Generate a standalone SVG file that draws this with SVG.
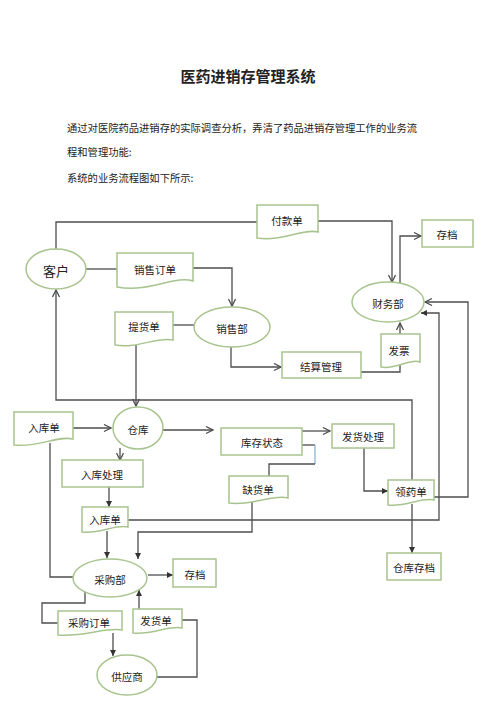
<svg xmlns="http://www.w3.org/2000/svg" width="495" height="701" viewBox="0 0 495 701">
<defs>
<marker id="open" markerUnits="userSpaceOnUse" markerWidth="10" markerHeight="10" refX="8" refY="4" orient="auto"><path d="M1,0.5 L8,4 L1,7.5" fill="none" stroke="#4d4d4d" stroke-width="1.3"/></marker>
<marker id="solid" markerUnits="userSpaceOnUse" markerWidth="8" markerHeight="8" refX="6" refY="3" orient="auto"><path d="M0,0 L6,3 L0,6 Z" fill="#333"/></marker>
</defs>
<style>
.n{fill:#fff;stroke:#a8c48e;stroke-width:1.5}
.t{font-family:"Noto Sans CJK SC","Noto Sans",sans-serif;font-size:10.5px;fill:#222;text-anchor:middle;dominant-baseline:central}
.big{font-size:13px}
.p{font-family:"Noto Sans CJK SC","Noto Sans",sans-serif;font-size:10.3px;fill:#222}
.c path{fill:none;stroke:#4d4d4d;stroke-width:1.3}
.o{marker-end:url(#open)}
.s{marker-end:url(#solid)}
</style>
<rect width="495" height="701" fill="#fff"/>
<text x="248" y="75" class="t" style="font-size:15px;font-weight:bold">医药进销存管理系统</text>
<text x="67" y="132" class="p">通过对医院药品进销存的实际调查分析，弄清了药品进销存管理工作的业务流</text>
<text x="67" y="156" class="p">程和管理功能:</text>
<text x="67" y="182" class="p">系统的业务流程图如下所示:</text>

<g class="c">
<path d="M86,269 H117"/>
<path class="o" d="M193,268 H232 V306"/>
<path d="M173,325 H194"/>
<path class="o" d="M136,345 V406"/>
<path d="M56,249 V222 H257"/>
<path class="o" d="M318,221 H392 V282"/>
<path class="o" d="M400,283 V236 H421"/>
<path class="o" d="M231,347 V367 H281"/>
<path d="M361,372 H400 V364"/>
<path class="o" d="M400,334 V323"/>
<path class="o" d="M434,497 H468 V302 H425"/>
<path class="s" d="M128,520 H439 V313 H421"/>
<path class="o" d="M412,480 V400 H56 V290"/>
<path class="o" d="M73,428 H111"/>
<path d="M50,443 V577 H73"/>
<path class="o" d="M163,430 H213"/>
<path class="o" d="M302,431 H330"/>
<path d="M302,445 H315"/>
<path d="M315,445 V464" style="stroke:#8fb2d9"/>
<path d="M315,464 H269 V476"/>
<path class="s" d="M364,448 V491 H388"/>
<path class="s" d="M412,504 V553"/>
<path class="o" d="M120,448 V460"/>
<path class="s" d="M109,487 V507"/>
<path class="s" d="M107,531 V558"/>
<path class="s" d="M252,501 V532 H138 V559"/>
<path class="s" d="M148,575 H173"/>
<path d="M85,591 V603 H42 V623 H58"/>
<path class="s" d="M113,633 V656"/>
<path d="M157,677 H197 V620 H182"/>
<path class="s" d="M139,609 V590"/>
</g>

<g id="kehu"><ellipse class="n" cx="56" cy="269" rx="30" ry="20"/><text class="t big" x="56" y="270">客户</text></g>
<g id="xiaoshoudingdan"><path class="n" d="M117,253 H193 V281 C175,275 150,293 117,287 Z"/><text class="t" x="155" y="269">销售订单</text></g>
<g id="xiaoshoubu"><ellipse class="n" cx="232" cy="327" rx="38" ry="20"/><text class="t" x="232" y="328">销售部</text></g>
<g id="tihuodan"><path class="n" d="M115,312 H173 V340 C158,336 138,349 115,345 Z"/><text class="t" x="144" y="326">提货单</text></g>
<g id="fukuandan"><path class="n" d="M257,205 H318 V232 C303,228 282,242 257,238 Z"/><text class="t" x="287" y="220">付款单</text></g>
<g id="caiwubu"><ellipse class="n" cx="388" cy="302" rx="36" ry="20"/><text class="t" x="388" y="303">财务部</text></g>
<g id="cundang1"><rect class="n" x="422" y="220" width="51" height="27"/><text class="t" x="447" y="234">存档</text></g>
<g id="jiesuanguanli"><rect class="n" x="282" y="352" width="79" height="26"/><text class="t" x="321" y="366">结算管理</text></g>
<g id="fapiao"><path class="n" d="M381,334 H420 V362 C410,358 396,370 381,367 Z"/><text class="t" x="399" y="350">发票</text></g>
<g id="rukudan1"><path class="n" d="M14,412 H73 V439 C58,435 38,448 14,445 Z"/><text class="t" x="44" y="427">入库单</text></g>
<g id="cangku"><ellipse class="n" cx="138" cy="428" rx="25" ry="21"/><text class="t" x="138" y="429">仓库</text></g>
<g id="kucunzhuangtai"><rect class="n" x="221" y="428" width="81" height="27"/><text class="t" x="262" y="442">库存状态</text></g>
<g id="fahuochuli"><rect class="n" x="332" y="424" width="62" height="24"/><text class="t" x="363" y="436">发货处理</text></g>
<g id="quehuodan"><path class="n" d="M229,476 H288 V498 C273,494 252,506 229,503 Z"/><text class="t" x="258" y="489">缺货单</text></g>
<g id="lingyaodan"><path class="n" d="M388,480 H434 V500 C422,497 406,507 388,505 Z"/><text class="t" x="411" y="491">领药单</text></g>
<g id="cangkucundang"><rect class="n" x="387" y="553" width="54" height="27"/><text class="t" x="414" y="567">仓库存档</text></g>
<g id="rukuchuli"><rect class="n" x="62" y="460" width="81" height="27"/><text class="t" x="102" y="474">入库处理</text></g>
<g id="rukudan2"><path class="n" d="M82,507 H128 V527 C116,524 100,534 82,532 Z"/><text class="t" x="105" y="519">入库单</text></g>
<g id="caigoubu"><ellipse class="n" cx="110" cy="578" rx="37" ry="19"/><text class="t" x="110" y="579">采购部</text></g>
<g id="cundang2"><rect class="n" x="173" y="559" width="43" height="28"/><text class="t" x="195" y="574">存档</text></g>
<g id="caigoudingdan"><path class="n" d="M58,611 H122 V630 C106,627 84,637 58,635 Z"/><text class="t" x="89" y="622">采购订单</text></g>
<g id="fahuodan"><path class="n" d="M133,609 H182 V628 C170,625 152,635 133,633 Z"/><text class="t" x="156" y="620">发货单</text></g>
<g id="gongyingshang"><ellipse class="n" cx="127" cy="675" rx="30" ry="20"/><text class="t" x="127" y="676">供应商</text></g>
</svg>
